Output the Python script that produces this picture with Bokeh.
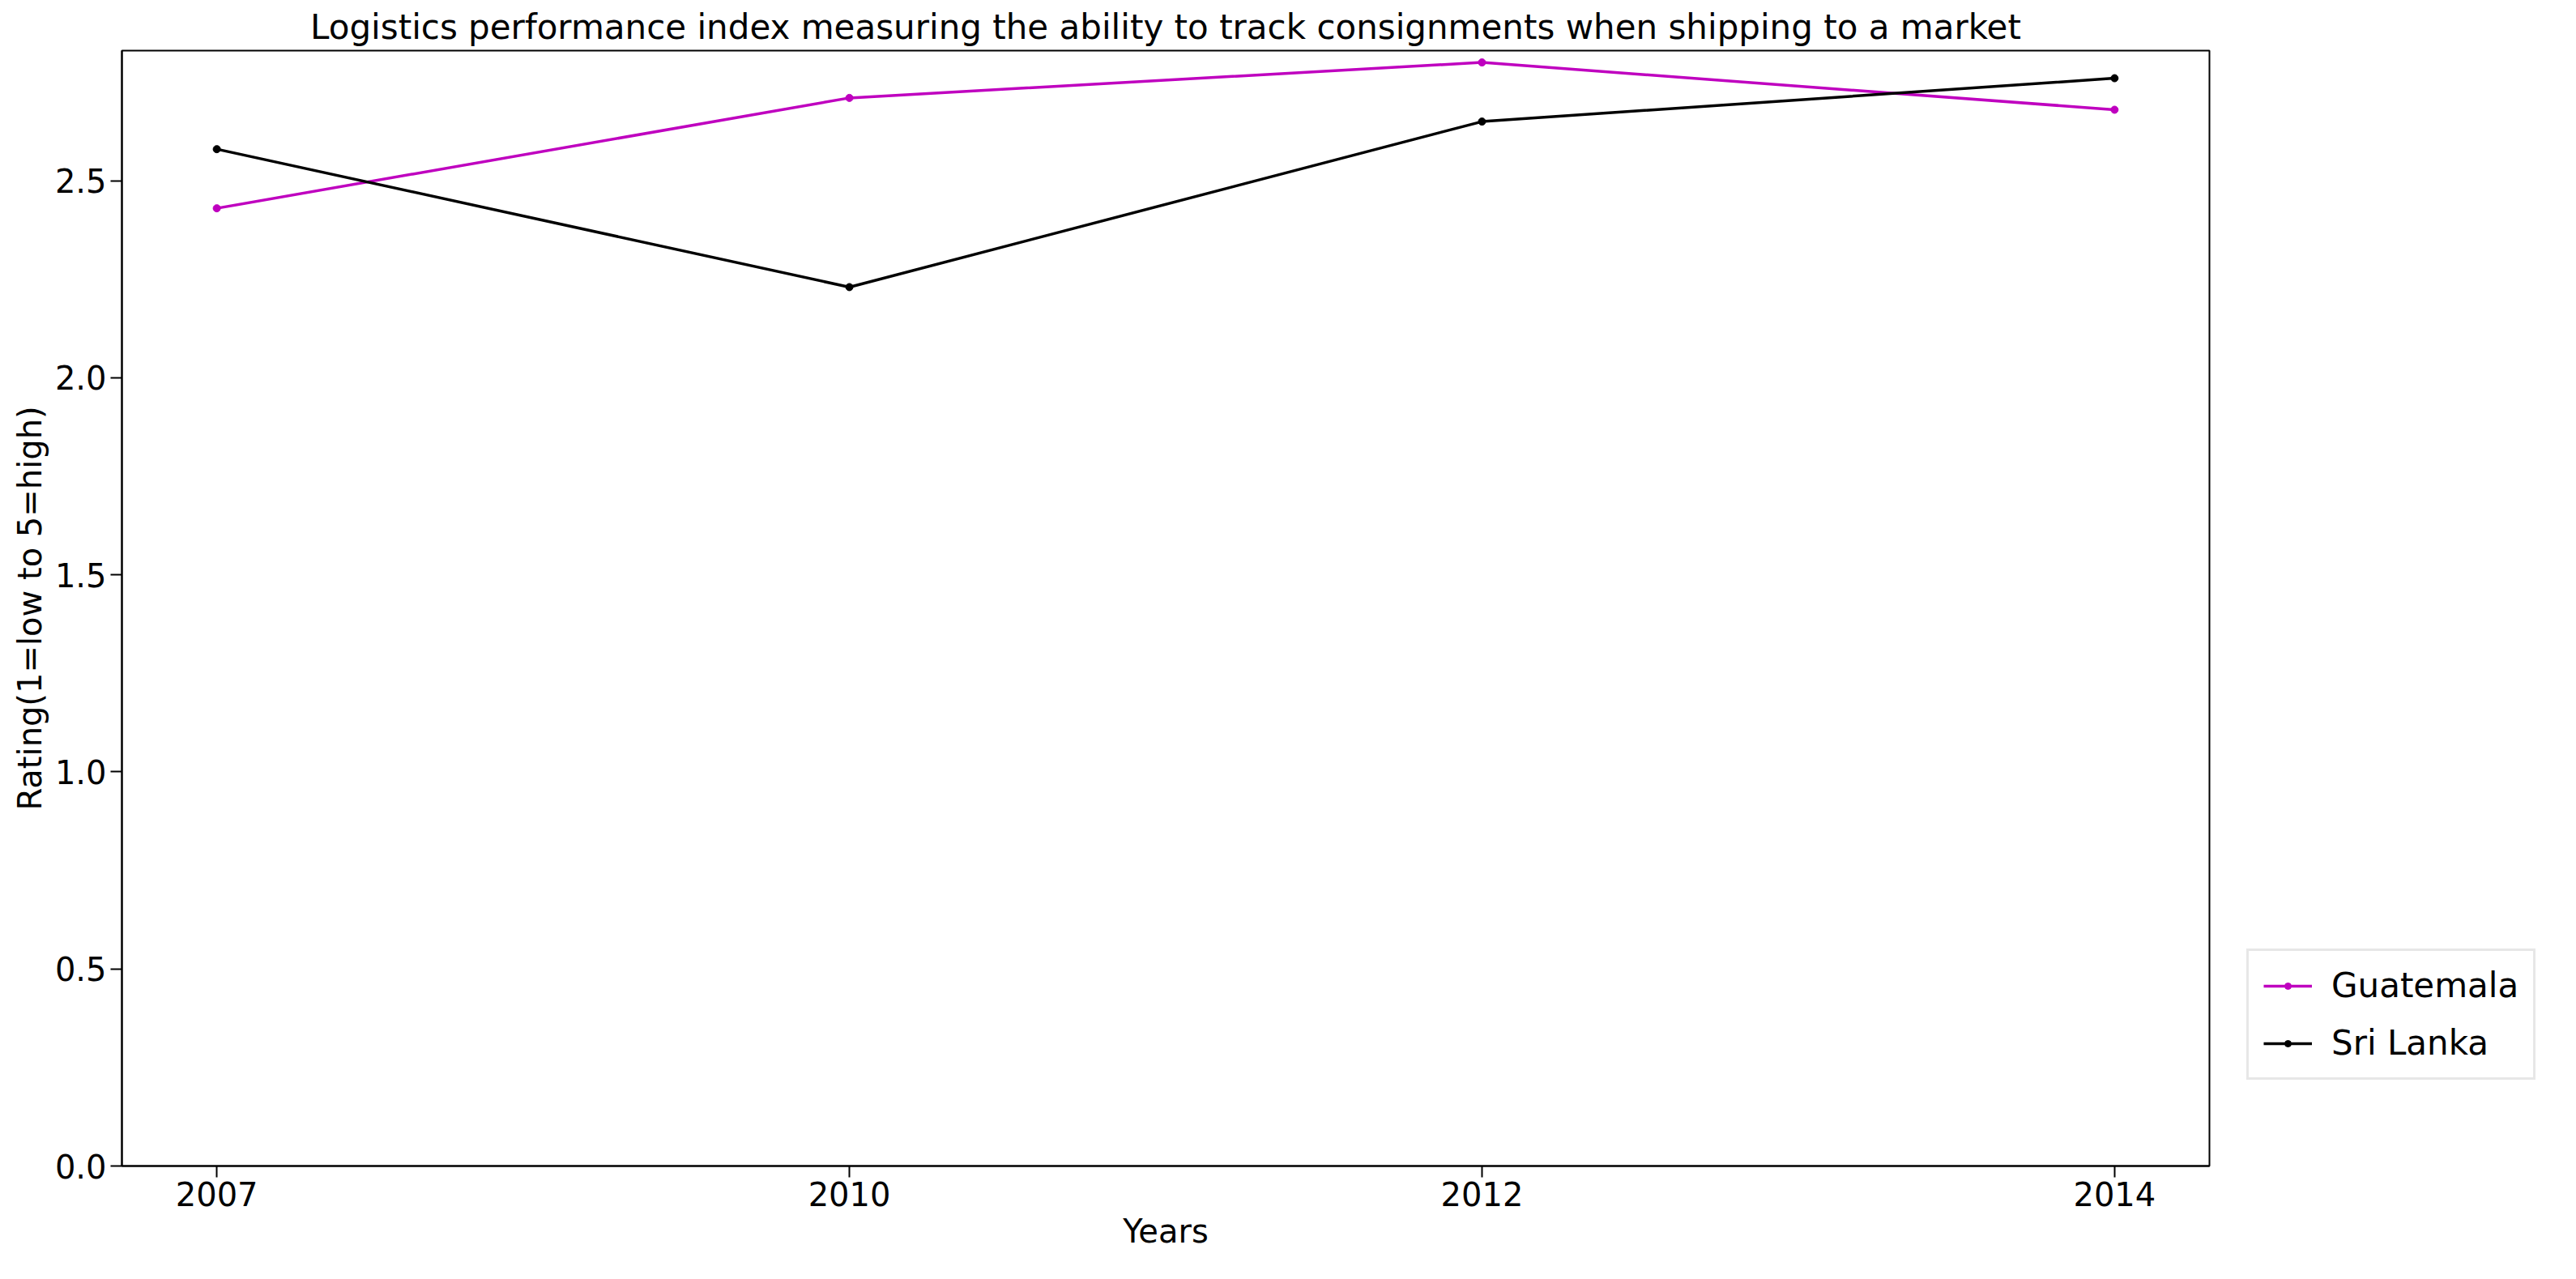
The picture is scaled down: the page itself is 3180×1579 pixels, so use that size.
from bokeh.plotting import figure
from bokeh.models import Legend, LegendItem, FixedTicker
from bokeh.embed import file_html
from bokeh.resources import INLINE

years = ["2007", "2010", "2012", "2014"]
guatemala = [2.43, 2.71, 2.80, 2.68]
sri_lanka = [2.58, 2.23, 2.65, 2.76]
xs = list(range(len(years)))

FONT = "DejaVu Sans"

p = figure(frame_width=2577, frame_height=1377, output_backend="svg", toolbar_location=None,
           x_range=(-0.15, 3.15), y_range=(0, 2.83),
           min_border_left=150, min_border_top=62, min_border_bottom=70, min_border_right=20)
p.title.text = "Logistics performance index measuring the ability to track consignments when shipping to a market"
p.title.align = "center"
p.title.text_font = FONT
p.title.text_font_size = "42px"
p.title.text_font_style = "normal"
p.title.text_color = "black"

gl = p.line(xs, guatemala, color="#bf00bf", line_width=3.5)
gs = p.scatter(xs, guatemala, color="#bf00bf", size=9)
sl = p.line(xs, sri_lanka, color="black", line_width=3.5)
ss = p.scatter(xs, sri_lanka, color="black", size=9)

p.xaxis.ticker = FixedTicker(ticks=xs)
p.xaxis.major_label_overrides = {i: y for i, y in enumerate(years)}
p.yaxis.ticker = FixedTicker(ticks=[0, 0.5, 1.0, 1.5, 2.0, 2.5])
p.yaxis.major_label_overrides = {0: "0.0", 0.5: "0.5", 1.0: "1.0", 1.5: "1.5", 2.0: "2.0", 2.5: "2.5"}
p.xaxis.axis_label = "Years"
p.yaxis.axis_label = "Rating(1=low to 5=high)"
for ax in (p.xaxis, p.yaxis):
    ax.axis_label_text_font = FONT
    ax.axis_label_text_font_size = "40px"
    ax.axis_label_text_font_style = "normal"
    ax.axis_label_text_color = "black"
    ax.major_label_text_font = FONT
    ax.major_label_text_font_size = "40px"
    ax.major_label_text_color = "black"
    ax.major_tick_out = 14
    ax.major_tick_in = 0
    ax.minor_tick_out = 0
    ax.minor_tick_in = 0
    ax.axis_line_width = 2
    ax.major_tick_line_width = 2
p.grid.visible = False
p.outline_line_color = "black"
p.outline_line_width = 2

legend = Legend(items=[LegendItem(label="Guatemala", renderers=[gl, gs]),
                       LegendItem(label="Sri Lanka", renderers=[sl, ss])],
                location="top_left", label_text_font=FONT, label_text_font_size="42px",
                label_text_color="black", label_standoff=24,
                border_line_color="#d0d0d0", border_line_width=3, glyph_width=60,
                margin=0, padding=18, spacing=22)
legend.margin = 0
p.add_layout(legend, "right")
legend.location = (46, 106)

open("out.html", "w").write(file_html(p, INLINE))
